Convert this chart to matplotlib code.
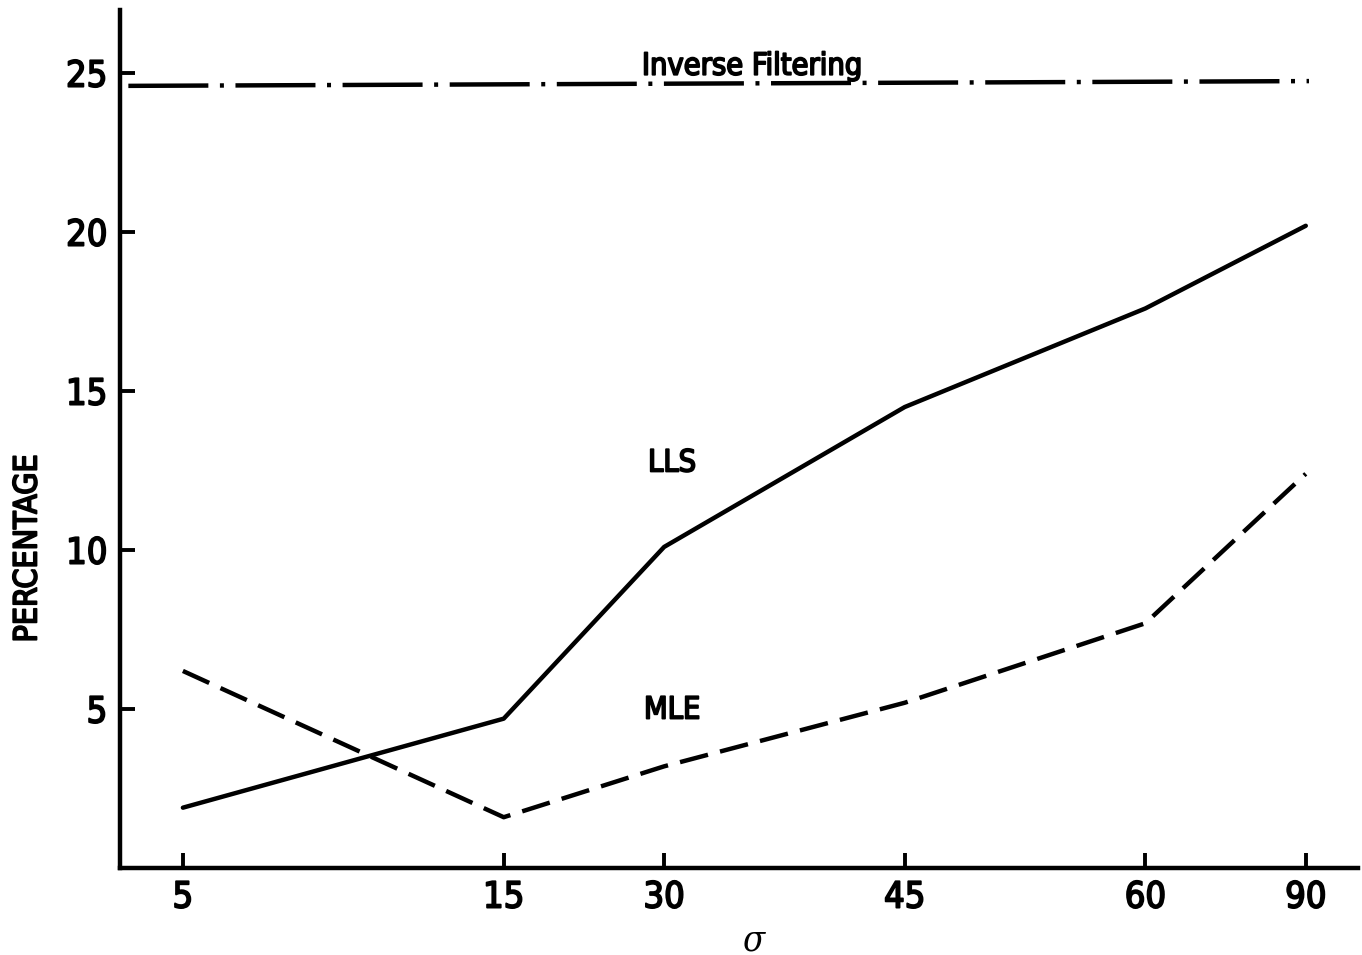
import matplotlib
matplotlib.use('Agg')
import matplotlib.pyplot as plt
import matplotlib.patheffects as pe
import numpy as np

# sigma values and where they sit on the (uneven) horizontal axis
sigma_labels = ['5', '15', '30', '45', '60', '90']
sigma_pos = [0, 2, 3, 4.5, 6, 7]

# percentage curves
lls = [1.9, 4.7, 10.1, 14.5, 17.6, 20.2]
mle = [6.2, 1.6, 3.2, 5.2, 7.7, 12.4]

# inverse filtering reference, drawn across the whole plot
inv_pos = [-0.34, 7.02]
inv_pct = [24.6, 24.75]

plt.rcParams['font.family'] = ['DejaVu Sans']
plt.rcParams['font.stretch'] = 'condensed'
plt.rcParams['mathtext.fontset'] = 'dejavuserif'

# slightly heavier lettering than the regular face
ink = [pe.withStroke(linewidth=1.3, foreground='black')]

fig = plt.figure(figsize=(13.62, 9.55), dpi=100)
ax = fig.add_axes([0.088, 0.091, 0.909, 0.899])

lw = 3.2
ax.plot(sigma_pos, lls, color='black', lw=lw, solid_capstyle='round')
ax.plot(sigma_pos, mle, color='black', lw=lw, linestyle=(0, (6.5, 2.8)))
ax.plot(inv_pos, inv_pct, color='black', lw=lw, linestyle=(0, (18, 2.6, 0.9, 2.6)))

ax.text(3.55, 24.95, 'Inverse Filtering', fontsize=22, ha='center', va='baseline',
        path_effects=ink)
ax.text(3.05, 12.74, 'LLS', fontsize=22, ha='center', va='center', path_effects=ink)
ax.text(3.05, 4.97, 'MLE', fontsize=22, ha='center', va='center', path_effects=ink)

ax.set_xlim(-0.393, 7.325)
ax.set_ylim(0, 27)
ax.set_xticks(sigma_pos)
ax.set_xticklabels(sigma_labels)
ax.set_yticks([5, 10, 15, 20, 25])
ax.tick_params(direction='in', length=11, width=2.8, labelsize=26, pad=9)
for lab in ax.get_xticklabels() + ax.get_yticklabels():
    lab.set_path_effects(ink)

for side in ['top', 'right']:
    ax.spines[side].set_visible(False)
for side in ['left', 'bottom']:
    ax.spines[side].set_linewidth(3.2)

fig.text(28 / 1362, 1 - 548 / 955, 'PERCENTAGE', fontsize=23, rotation=90,
         ha='center', va='center', path_effects=ink)
fig.text(754 / 1362, 1 - 940 / 955, '$\\sigma$', fontsize=26, ha='center', va='center')

plt.savefig('out.png', dpi=100)
